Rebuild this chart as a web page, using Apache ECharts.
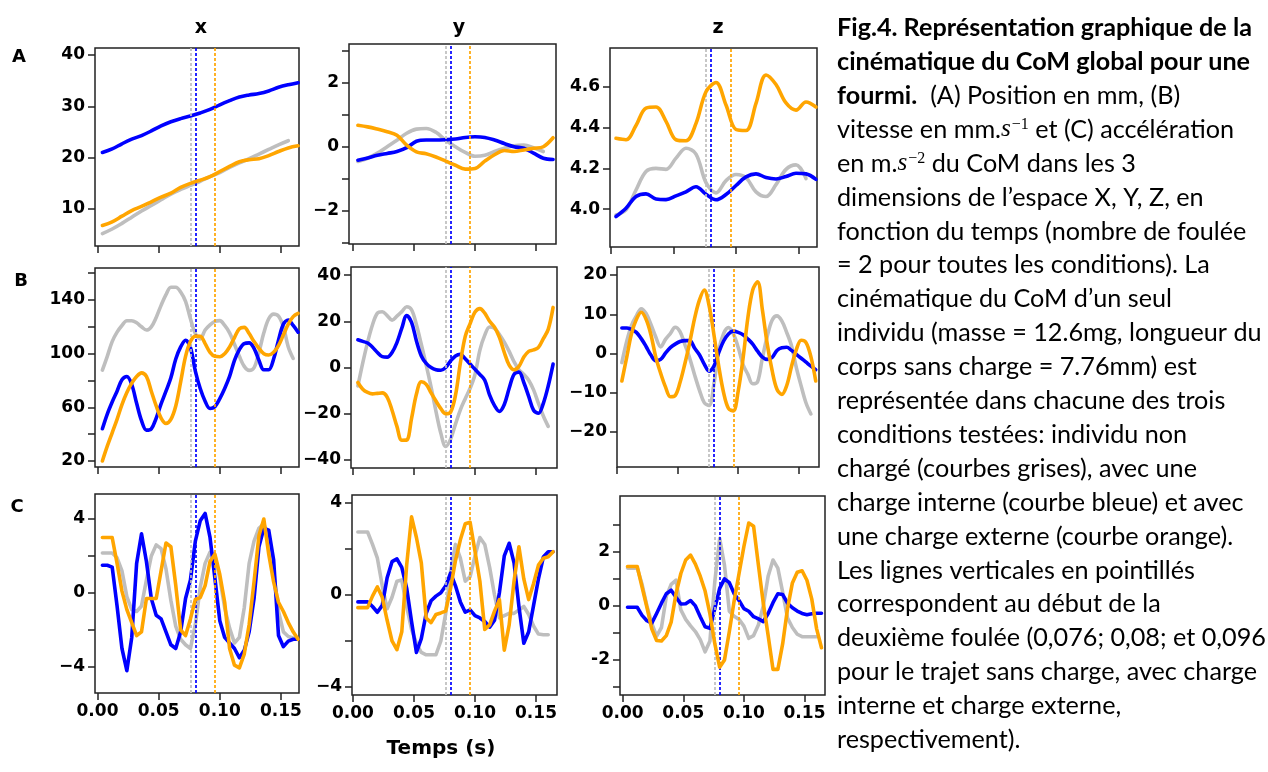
<!DOCTYPE html>
<html><head><meta charset="utf-8">
<script src="https://cdn.jsdelivr.net/npm/echarts@6/dist/echarts.min.js"></script>
<style>html,body{margin:0;padding:0;background:#fff}#c{width:1268px;height:772px}</style>
</head><body><div id="c"></div>
<script>
// ---------------- DATA ----------------
const timeA = [0.004,0.012,0.020,0.028,0.036,0.044,0.052,0.060,0.068,0.076,0.084,0.092,0.100,0.108,0.116,0.124,0.132,0.140,0.148,0.156,0.164];
const timeBC = [0.004,0.008,0.012,0.016,0.020,0.024,0.028,0.032,0.036,0.040,0.044,0.048,0.052,0.056,0.060,0.064,0.068,0.072,0.076,0.080,0.084,0.088,0.092,0.096,0.100,0.104,0.108,0.112,0.116,0.120,0.124,0.128,0.132,0.136,0.140,0.144,0.148,0.152,0.156,0.160,0.164];

// Row A : position (mm)
const AxGray   = [5.2,6.1,7.2,8.4,9.6,10.7,11.8,12.9,13.8,14.6,15.4,16.3,17.1,18.1,19.0,19.8,20.7,21.6,22.5,23.3,null];
const AxBlue   = [21.0,21.7,22.7,23.6,24.3,25.2,26.2,27.0,27.6,28.1,28.7,29.4,30.3,31.1,31.8,32.2,32.5,33.0,33.7,34.2,34.6];
const AxOrange = [6.8,7.5,8.6,9.7,10.5,11.4,12.3,13.1,14.2,15.0,15.6,16.3,17.3,18.3,19.2,19.6,19.8,20.4,21.2,21.9,22.3];
const AyGray   = [-0.46,-0.36,-0.2,0.0,0.2,0.42,0.55,0.57,0.45,0.2,0.0,-0.18,-0.3,-0.27,-0.15,-0.05,0.03,0.05,-0.03,-0.15,null];
const AyBlue   = [-0.42,-0.35,-0.27,-0.21,-0.15,-0.03,0.17,0.21,0.21,0.22,0.24,0.29,0.31,0.29,0.21,0.10,0.0,-0.05,-0.2,-0.36,-0.40];
const AyOrange = [0.67,0.62,0.55,0.47,0.36,0.05,-0.16,-0.22,-0.32,-0.45,-0.58,-0.70,-0.68,-0.45,-0.25,-0.12,-0.15,-0.10,-0.05,0.0,0.28];
const AzGray   = [3.972,3.997,4.094,4.185,4.2,4.195,4.25,4.298,4.27,4.13,4.08,4.14,4.17,4.155,4.085,4.062,4.12,4.195,4.217,4.15,null];
const AzBlue   = [3.964,4.005,4.062,4.075,4.05,4.047,4.065,4.085,4.11,4.073,4.046,4.072,4.116,4.158,4.173,4.155,4.148,4.16,4.176,4.173,4.146];
const AzOrange = [4.347,4.34,4.41,4.495,4.50,4.43,4.34,4.335,4.42,4.575,4.62,4.51,4.39,4.385,4.518,4.657,4.61,4.52,4.485,4.525,4.50];

// Row B : velocity (mm/s)
const BxGray   = [87.7,98,109,116,121,124.5,124.5,123,120,117.6,120,127,136,144,149.5,149.5,146,139,126,115,111,117.6,121.5,124,124.6,121,115.5,107,98,90.5,87.5,89.5,101,115.5,126,129.5,128,120,105,96.4,null];
const BxBlue   = [44,55,64,72,80.5,83,77,63,50,43,44,52,62.5,72,82,96,105,110,104.5,87,74,64.5,59.1,60.5,66.5,74,83,95,103,107.5,108,104,95,88,88,96,110,122,125.1,121,116];
const BxOrange = [20,31,41,51,62,71,78,83,85.7,83,72,61,52,48,51,61,79,98,109,113.1,113,107.5,101,98,97.7,100,105,112,118.5,119.6,115,109,104,100,99,101,106,114,122,127.6,130];
const ByGray   = [-8,2,11,18.5,23.5,24.1,22.5,20.5,22.2,24.2,26.3,25,18.5,10,1,-8.5,-19,-28.5,-34.2,-31,-24.5,-18.3,-13.5,-9,-3,7.5,14,17.5,17,14.3,11,7,2.5,-1,-3,-5.5,-9.7,-15.5,-21,-25.5,null];
const ByBlue   = [12,11.3,10.6,8.8,6.5,4.7,4.5,6.5,10.8,17,22.5,19.5,11.5,5,1.8,0,-1,-1.2,0,2.8,5,5.7,3.8,1.5,-0.8,-3,-5.5,-12,-16.5,-19,-16,-9,-3,-2,-6.5,-12.5,-18.5,-19.8,-15.5,-8,1.5];
const ByOrange = [-6.5,-9.4,-10.8,-11.4,-11.2,-11,-12.8,-18.5,-25.5,-31.5,-31.4,-22,-11.5,-6.2,-7.3,-11,-14.5,-17.8,-20,-19.3,-12,2,13.5,19,24,25.5,23.5,20,17.5,13,6.5,1,-1,0.5,4.5,7,7.6,8.7,12.5,16.5,26];
const BzGray   = [-2.3,3.1,7.2,9.6,11.4,10.2,7.4,4.2,1.7,3.6,5.1,6.7,5.6,2.3,-1.2,-5.4,-9.3,-12.5,-13.2,-7.7,0.8,5.1,6.6,5,1.6,-2.8,-5.3,-7.7,-7.2,-1.1,4.4,8.5,9.6,8.3,5.4,2,-3.6,-8.3,-12.6,-15.4,null];
const BzBlue   = [6.5,6.5,6.1,5.4,3.8,1.8,-0.4,-1.8,-1.5,0.1,1.5,2.4,3.05,3.3,3.3,1.4,-0.3,-2.7,-4.5,-3.2,0.3,3.2,5,5.7,5.4,4.8,3.7,2.4,0.6,-0.9,-1.5,-1.0,0.8,1.5,1.6,0.8,-0.2,-1.2,-2.2,-3.2,-4.1];
const BzOrange = [-7,-1,5.1,8.7,10.5,8.7,4.8,-0.9,-5,-8.5,-11,-10.7,-7.4,-2.6,2.8,8.9,13.6,16.2,12.2,4.8,-3.3,-10,-14,-14.6,-9.6,-1.3,9.1,16.2,18.3,11.1,2.4,-4.3,-9.1,-10.4,-8.2,-3.3,1,3.4,2.8,-0.8,-7];

// Row C : acceleration (m/s^2)
const CxGray   = [2.16,2.16,2.16,1.9,1.2,-0.2,-0.9,-1.0,-0.7,0.7,2.0,2.6,2.4,1.3,-0.4,-1.8,-2.5,-2.8,-3.0,-1.7,0.3,1.6,2.2,2.0,0.8,-0.8,-1.9,-2.7,-2.4,-0.8,1.6,2.8,3.5,3.75,2.8,1.2,-1.0,-2.1,-2.35,-2.43,null];
const CxBlue   = [1.5,1.5,1.4,-0.7,-3.0,-4.2,-2.4,1.6,3.2,1.7,-0.3,-1.2,-1.4,-2.1,-2.8,-3.0,-2.1,-0.3,0.7,2.8,3.9,4.3,3.0,0.8,-1.5,-2.4,-2.7,-3.0,-3.5,-3.1,-2.1,-0.3,2.5,3.5,3.4,1.8,-2.3,-2.9,-2.6,-2.5,-2.5];
const CxOrange = [3.0,3.0,3.0,1.6,0.1,-0.9,-1.6,-2.3,-2.1,-0.3,-0.3,-0.3,1.2,2.7,2.5,0.4,-2.0,-2.3,-1.4,-0.35,-0.25,0.4,1.7,2.1,1.0,-0.5,-3.0,-3.9,-4.05,-3.3,-1.7,0.6,3.1,4.0,2.1,0.6,-0.5,-1.0,-1.6,-2.1,-2.5];
const CyGray   = [2.74,2.74,2.74,2.2,1.6,0.4,-0.6,-0.1,0.6,0.65,-0.5,-1.5,-2.1,-2.5,-2.6,-2.6,-2.6,-2.0,-0.8,1.0,2.2,1.6,0.6,0.8,1.7,2.5,2.2,1.2,0.0,-1.0,-0.9,-0.8,-0.8,-0.65,-0.5,-0.85,-1.35,-1.7,-1.73,-1.73,null];
const CyBlue   = [-0.3,-0.3,-0.3,-0.5,-0.75,-0.45,0.75,1.45,1.57,1.2,0.3,-1.15,-2.5,-1.9,-0.8,-0.25,-0.05,0.1,0.4,0.95,0.4,-0.3,-0.75,-0.65,-0.9,-1.0,-1.15,-1.4,-1.1,0.1,1.7,2.25,1.4,-0.5,-2.1,-1.6,-0.45,0.7,1.65,1.88,1.88];
const CyOrange = [-0.55,-0.55,-0.55,-0.05,0.35,-0.1,-1.1,-2.0,-2.38,-1.6,1.3,3.4,2.5,1.4,-1.0,-1.2,-0.85,-0.78,-0.7,0.3,1.5,2.4,3.1,3.16,1.9,0.6,-1.5,-1.3,-0.7,-0.2,-2.4,-1.3,0.6,2.1,0.7,-0.2,0.5,1.3,1.6,1.66,1.88];
const CzGray   = [1.4,1.4,1.4,0.8,0.0,-0.65,-1.12,-0.8,0.35,0.8,0.95,-0.15,-0.5,-0.74,-0.95,-1.25,-1.7,-1.3,0.9,2.5,1.5,-0.2,-0.38,-0.5,-0.75,-1.2,-1.1,-0.7,0.0,1.1,1.7,1.4,0.5,-0.45,-0.8,-1.05,-1.14,-1.14,-1.14,-1.14,null];
const CzBlue   = [-0.05,-0.05,-0.05,-0.35,-0.55,-0.64,-0.28,0.1,0.45,0.58,0.32,0.07,0.08,0.2,0.0,-0.4,-0.77,-0.83,-0.1,0.65,1.0,0.86,0.45,0.2,-0.1,-0.2,-0.4,-0.48,-0.58,-0.28,0.12,0.45,0.42,0.1,-0.07,-0.19,-0.28,-0.33,-0.29,-0.27,-0.27];
const CzOrange = [1.46,1.46,1.46,0.7,-0.05,-0.85,-1.28,-1.3,-1.1,-0.6,0.45,1.2,1.7,1.88,1.55,1.1,0.55,-0.3,-1.4,-2.27,-2.0,-0.95,0.2,1.2,2.2,3.07,2.95,1.5,0.1,-1.1,-2.35,-2.35,-1.4,-0.1,0.85,1.25,1.3,0.95,0.25,-0.85,-1.55];

// start of the second stride: no load, internal load, external load
const strideStart = [0.076, 0.08, 0.096];

const xTicks = [0, 0.05, 0.10, 0.15];
const colTitles = ['x', 'y', 'z'];
const rowLetters = ['A', 'B', 'C'];
const xAxisTitle = 'Temps (s)';

const yTicks = {
  Ax:[10,20,30,40], Ay:[-3,-2,-1,0,1,2,3], Az:[4.0,4.2,4.4,4.6],
  Bx:[20,40,60,80,100,120,140,160], By:[-40,-20,0,20,40], Bz:[-20,-10,0,10,20],
  Cx:[-4,-2,0,2,4], Cy:[-4,-2,0,2,4], Cz:[-3,-2,-1,0,1,2,3]
};
const yLabels = {
  Ax:[10,20,30,40], Ay:[-2,0,2], Az:[4.0,4.2,4.4,4.6],
  Bx:[20,60,100,140], By:[-40,-20,0,20,40], Bz:[-20,-10,0,10,20],
  Cx:[-4,0,4], Cy:[-4,0,4], Cz:[-2,0,2]
};

const captionLines = [
  '{b|Fig.4. Représentation graphique de la}',
  '{b|cinématique du CoM global pour une}',
  '{b|fourmi.}  (A) Position en mm, (B)',
  'vitesse en mm.{i|s}{sup|−1} et (C) accélération',
  'en m.{i|s}{sup|−2} du CoM dans les 3',
  'dimensions de l’espace X, Y, Z, en',
  'fonction du temps (nombre de foulée',
  '= 2 pour toutes les conditions). La',
  'cinématique du CoM d’un seul',
  'individu (masse = 12.6mg, longueur du',
  'corps sans charge = 7.76mm) est',
  'représentée dans chacune des trois',
  'conditions testées: individu non',
  'chargé (courbes grises), avec une',
  'charge interne (courbe bleue) et avec',
  'une charge externe (courbe orange).',
  'Les lignes verticales en pointillés',
  'correspondent au début de la',
  'deuxième foulée (0,076; 0,08; et 0,096',
  'pour le trajet sans charge, avec charge',
  'interne et charge externe,',
  'respectivement).'
];

// ---------------- LAYOUT / STYLE ----------------
const panels = [
  {key:'Ax', row:0, col:0, t:timeA,  s:[AxGray,AxBlue,AxOrange]},
  {key:'Ay', row:0, col:1, t:timeA,  s:[AyGray,AyBlue,AyOrange]},
  {key:'Az', row:0, col:2, t:timeA,  s:[AzGray,AzBlue,AzOrange]},
  {key:'Bx', row:1, col:0, t:timeBC, s:[BxGray,BxBlue,BxOrange]},
  {key:'By', row:1, col:1, t:timeBC, s:[ByGray,ByBlue,ByOrange]},
  {key:'Bz', row:1, col:2, t:timeBC, s:[BzGray,BzBlue,BzOrange]},
  {key:'Cx', row:2, col:0, t:timeBC, s:[CxGray,CxBlue,CxOrange]},
  {key:'Cy', row:2, col:1, t:timeBC, s:[CyGray,CyBlue,CyOrange]},
  {key:'Cz', row:2, col:2, t:timeBC, s:[CzGray,CzBlue,CzOrange]}
];
const layout = {
  Ax:{box:[95,48,299,246],  x:[-0.00204,0.16476], y:[2.79,41.36]},
  Ay:{box:[349,44,556,244], x:[-0.00328,0.1664],  y:[-3.04,3.21]},
  Az:{box:[610,48,817,247], x:[-0.0008,0.1648],   y:[3.815,4.789]},
  Bx:{box:[95,268,299,467], x:[-0.00204,0.16476], y:[15.5,163.85]},
  By:{box:[351,267,557,468],x:[-0.00164,0.1672],  y:[-43.5,43.5]},
  Bz:{box:[617,267,819,467],x:[0,0.1667],         y:[-28.9,22.04]},
  Cx:{box:[95,494,299,693], x:[-0.00204,0.16476], y:[-5.405,5.35]},
  Cy:{box:[352,495,557,695],x:[-0.0008,0.1672],   y:[-4.35,4.35]},
  Cz:{box:[620,496,825,695],x:[-0.0022,0.1669],   y:[-3.30,4.07]}
};
const lineColors = ['#bebebe', '#0000ff', '#ffa500'];
const axisFont = {fontFamily:'DejaVu Sans', fontWeight:'bold', fontSize:17, color:'#000'};
const boxColor = '#222';

const grids = [], xAxes = [], yAxes = [], series = [];
panels.forEach((p, i) => {
  const L = layout[p.key];
  const [l, t, r, b] = L.box;
  grids.push({left:l, top:t, width:r - l, height:b - t, show:true, borderColor:boxColor, borderWidth:1.5, backgroundColor:'transparent'});
  xAxes.push({
    type:'value', gridIndex:i, min:L.x[0], max:L.x[1], position:'bottom',
    axisLine:{show:false, onZero:false}, splitLine:{show:false},
    axisTick:{show:true, inside:false, length:7, customValues:xTicks, lineStyle:{color:boxColor, width:1.5}},
    axisLabel:Object.assign({show:p.row === 2, customValues:xTicks, margin:10, formatter:v => v.toFixed(2)}, axisFont)
  });
  const dec = p.key === 'Az' ? 1 : 0;
  const minus = p.key === 'Cz' ? '-' : '\u2212';
  yAxes.push({
    type:'value', gridIndex:i, min:L.y[0], max:L.y[1], position:'left',
    axisLine:{show:false, onZero:false}, splitLine:{show:false},
    axisTick:{show:true, inside:false, length:7, customValues:yTicks[p.key], lineStyle:{color:boxColor, width:1.5}},
    axisLabel:Object.assign({show:true, customValues:yLabels[p.key], margin:10,
      formatter:v => Number(v).toFixed(dec).replace('-', minus)}, axisFont)
  });
  p.s.forEach((arr, k) => {
    const ser = {
      type:'line', xAxisIndex:i, yAxisIndex:i,
      data:p.t.map((tt, j) => [tt, arr[j]]),
      showSymbol:false, symbol:'none', smooth:p.row === 2 ? false : 0.35,
      lineStyle:{color:lineColors[k], width:3.6, cap:'round', join:'round'},
      itemStyle:{color:lineColors[k]},
      connectNulls:false, silent:true, z:3 + k
    };
    if (k === 0) {
      ser.markLine = {
        silent:true, symbol:['none','none'], label:{show:false}, animation:false, precision:4,
        data:strideStart.map((v, m) => ({xAxis:v, lineStyle:{color:lineColors[m], type:[3,2], width:1.7}}))
      };
    }
    series.push(ser);
  });
});

// ---------------- TEXT ----------------
const graphic = [];
const colCenters = [201, 459, 718];
colTitles.forEach((tx, c) => graphic.push({type:'text', x:colCenters[c], y:28,
  style:{text:tx, fontFamily:'DejaVu Sans', fontWeight:'bold', fontSize:19, fill:'#000', align:'center', verticalAlign:'middle'}}));
const rowPos = [[19,57],[21,281],[17,507]];
rowLetters.forEach((tx, r) => graphic.push({type:'text', x:rowPos[r][0], y:rowPos[r][1],
  style:{text:tx, fontFamily:'DejaVu Sans', fontWeight:'bold', fontSize:18, fill:'#000', align:'center', verticalAlign:'middle'}}));
graphic.push({type:'text', x:441, y:749,
  style:{text:xAxisTitle, fontFamily:'DejaVu Sans', fontWeight:'bold', fontSize:20, fill:'#000', align:'center', verticalAlign:'middle'}});

// caption font size fitted to the reference line width
const capFamily = 'Lato';
const ctx = document.createElement('canvas').getContext('2d');
ctx.font = '100px ' + capFamily;
const refW = ctx.measureText('individu (masse = 12.6mg, longueur du').width;
const capSize = Math.round(100 * 425 / refW * 10) / 10;
const capRich = {
  b:{fontWeight:'bold', fontSize:capSize, fontFamily:capFamily, fill:'#000'},
  i:{fontStyle:'italic', fontSize:capSize, fontFamily:'Liberation Serif', fill:'#000'},
  sup:{fontSize:Math.round(capSize * 0.62), fontFamily:'Liberation Serif', fill:'#000', verticalAlign:'top', padding:[0,0,0,1]}
};
captionLines.forEach((ln, k) => graphic.push({type:'text', x:837, y:28 + k * 33.9,
  style:{text:ln, fontFamily:capFamily, fontSize:capSize, fill:'#000', align:'left', verticalAlign:'middle', rich:capRich}}));

const chart = echarts.init(document.getElementById('c'));
chart.setOption({
  animation:false,
  backgroundColor:'#fff',
  grid:grids, xAxis:xAxes, yAxis:yAxes, series:series,
  graphic:graphic
});
</script>
</body></html>
